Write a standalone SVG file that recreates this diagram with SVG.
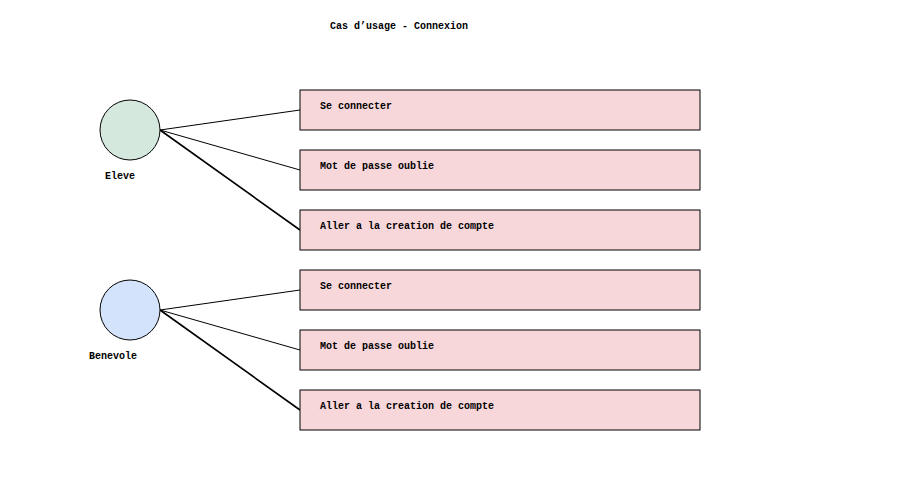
<svg xmlns="http://www.w3.org/2000/svg" width="900" height="500" viewBox="0 0 900 500">
<style>
text{font-family:"Liberation Mono","DejaVu Sans Mono",monospace;font-size:10px;font-weight:bold;fill:#000}
.uc{fill:#f8d7da;stroke:#000;stroke-width:1}
.ln{stroke:#000;stroke-width:1;fill:none}
.thick{stroke-width:1.6}
.actor{stroke:#000;stroke-width:1}
</style>
<rect width="900" height="500" fill="#fff"/>
<text x="330" y="29">Cas d’usage - Connexion</text>
<g id="connectors">
<line class="ln" x1="160" y1="130" x2="300" y2="110"/>
<line class="ln" x1="160" y1="130" x2="300" y2="170"/>
<line class="ln thick" x1="160" y1="130" x2="300" y2="230"/>
<line class="ln" x1="160" y1="310" x2="300" y2="290"/>
<line class="ln" x1="160" y1="310" x2="300" y2="350"/>
<line class="ln thick" x1="160" y1="310" x2="300" y2="410"/>
</g>
<g id="eleve">
<circle class="actor" cx="130" cy="130" r="30" fill="#d5e8dd"/>
<text x="105" y="179">Eleve</text>
</g>
<g id="benevole">
<circle class="actor" cx="130" cy="310" r="30" fill="#d3e3fb"/>
<text x="89" y="359">Benevole</text>
</g>
<g id="uc1"><rect class="uc" x="300" y="90" width="400" height="40"/><text x="320" y="109">Se connecter</text></g>
<g id="uc2"><rect class="uc" x="300" y="150" width="400" height="40"/><text x="320" y="169">Mot de passe oublie</text></g>
<g id="uc3"><rect class="uc" x="300" y="210" width="400" height="40"/><text x="320" y="229">Aller a la creation de compte</text></g>
<g id="uc4"><rect class="uc" x="300" y="270" width="400" height="40"/><text x="320" y="289">Se connecter</text></g>
<g id="uc5"><rect class="uc" x="300" y="330" width="400" height="40"/><text x="320" y="349">Mot de passe oublie</text></g>
<g id="uc6"><rect class="uc" x="300" y="390" width="400" height="40"/><text x="320" y="409">Aller a la creation de compte</text></g>
</svg>
